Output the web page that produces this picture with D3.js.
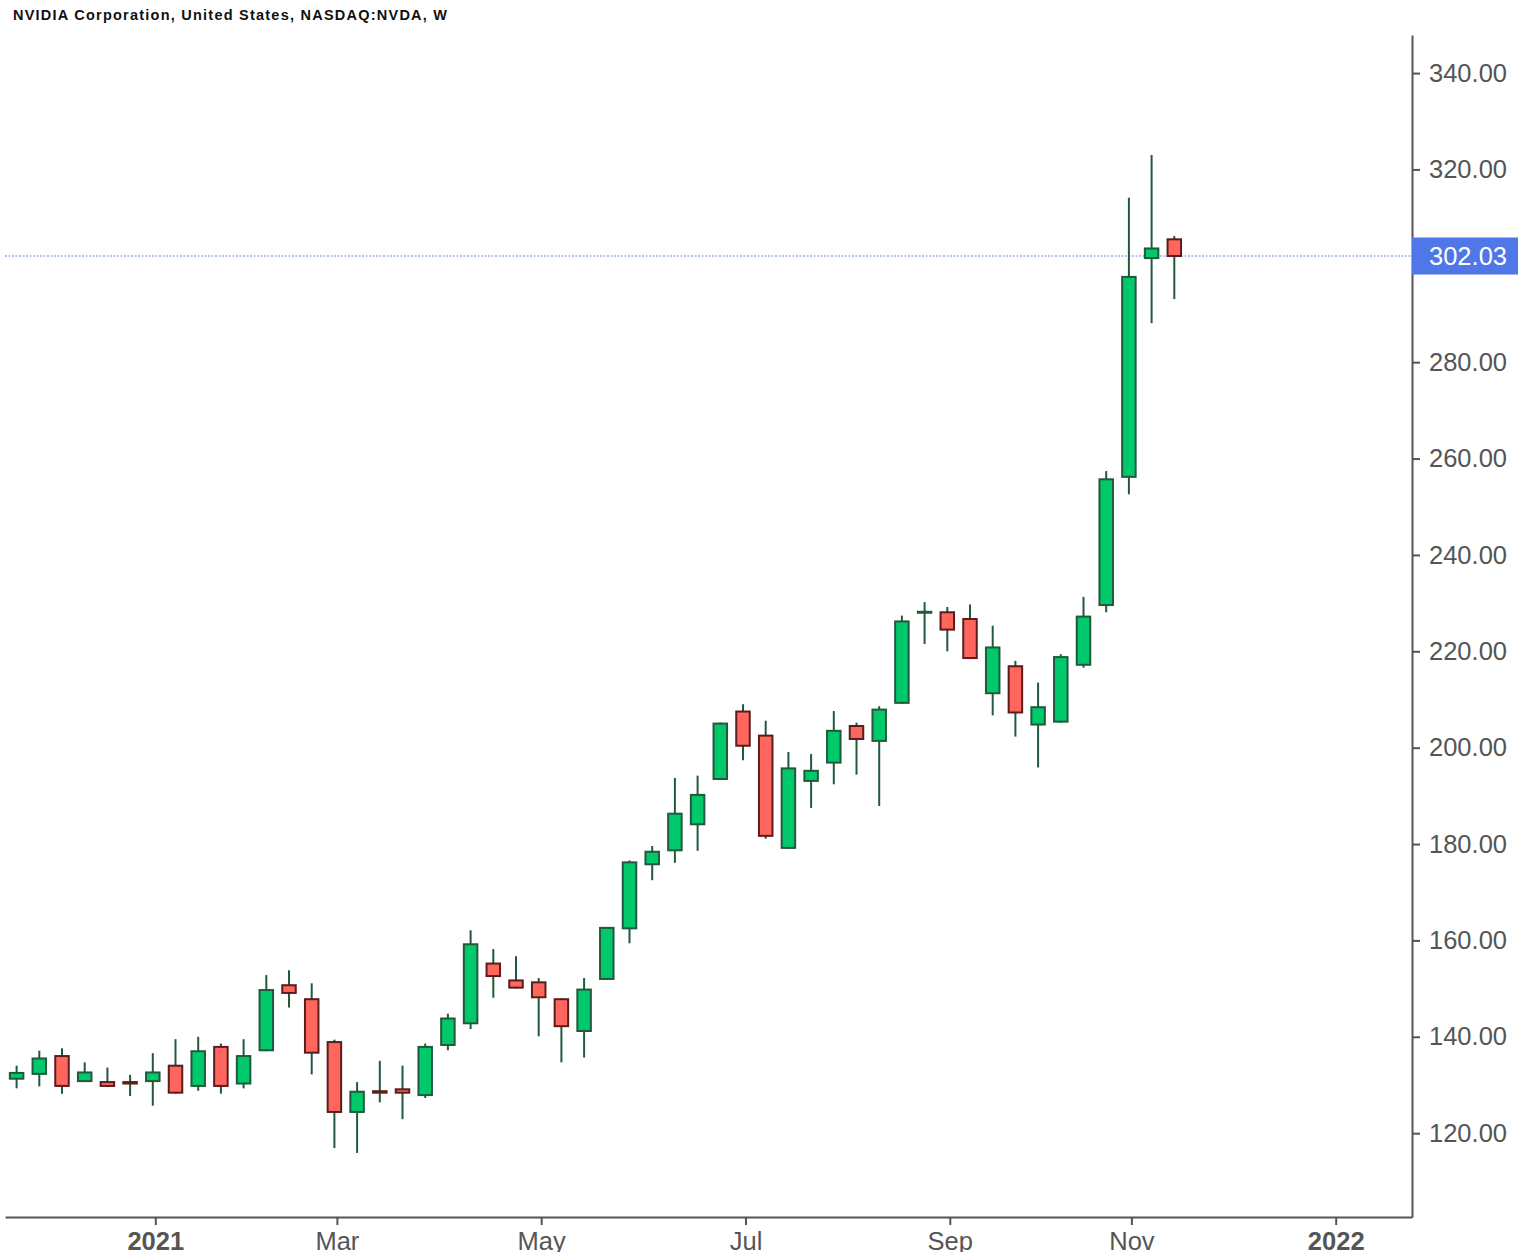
<!DOCTYPE html>
<html>
<head>
<meta charset="utf-8">
<script src="https://cdn.jsdelivr.net/npm/d3@7"></script>
<style>
  body { margin: 0; background: #fff; }
  svg { display: block; font-family: "Liberation Sans", Arial, sans-serif; }
</style>
</head>
<body>
<div id="chart"></div>
<script>
// weekly bars, NVDA
var weeks = [
  "2020-11-23", "2020-11-30", "2020-12-07", "2020-12-14", "2020-12-21", "2020-12-28",
  "2021-01-04", "2021-01-11", "2021-01-18", "2021-01-25", "2021-02-01", "2021-02-08",
  "2021-02-15", "2021-02-22", "2021-03-01", "2021-03-08", "2021-03-15", "2021-03-22",
  "2021-03-29", "2021-04-05", "2021-04-12", "2021-04-19", "2021-04-26", "2021-05-03",
  "2021-05-10", "2021-05-17", "2021-05-24", "2021-05-31", "2021-06-07", "2021-06-14",
  "2021-06-21", "2021-06-28", "2021-07-05", "2021-07-12", "2021-07-19", "2021-07-26",
  "2021-08-02", "2021-08-09", "2021-08-16", "2021-08-23", "2021-08-30", "2021-09-06",
  "2021-09-13", "2021-09-20", "2021-09-27", "2021-10-04", "2021-10-11", "2021-10-18",
  "2021-10-25", "2021-11-01", "2021-11-08", "2021-11-15"
];
var opens = [
  131.3, 132.3, 136.0, 130.8, 130.6, 130.6, 130.8, 134.0, 129.8, 137.9, 130.3, 137.2,
  150.7, 147.8, 138.9, 124.4, 128.7, 129.1, 127.9, 138.3, 142.8, 155.2, 151.7, 151.3,
  147.8, 141.2, 152.0, 162.5, 175.8, 178.7, 184.1, 193.5, 207.5, 202.5, 179.2, 193.1,
  196.9, 204.5, 201.4, 209.3, 228.0, 228.1, 226.7, 211.3, 216.9, 204.8, 205.4, 217.2,
  229.6, 256.2, 301.6, 305.5
];
var highs = [
  134.0, 137.1, 137.6, 134.7, 133.6, 132.1, 136.6, 139.5, 140.0, 138.6, 139.5, 152.8,
  153.8, 151.1, 139.4, 130.6, 135.0, 134.0, 138.6, 144.8, 162.1, 158.2, 156.7, 152.2,
  148.0, 152.2, 162.8, 176.6, 179.6, 193.7, 194.2, 205.2, 209.0, 205.6, 199.1, 198.7,
  207.6, 205.2, 208.6, 227.4, 230.2, 229.2, 229.7, 225.3, 218.0, 213.5, 219.4, 231.3,
  257.4, 314.1, 323.0, 306.2
];
var lows = [
  129.3, 129.7, 128.2, 130.6, 129.6, 127.7, 125.7, 128.2, 128.8, 128.2, 129.3, 137.0,
  146.1, 132.2, 116.9, 115.9, 126.4, 122.9, 127.3, 137.2, 141.6, 148.1, 150.0, 140.1,
  134.7, 135.7, 151.8, 159.4, 172.5, 176.1, 178.6, 193.3, 197.4, 181.1, 179.0, 187.5,
  192.4, 194.4, 187.9, 209.1, 221.5, 220.0, 218.4, 206.7, 202.3, 195.9, 205.2, 216.6,
  228.1, 252.6, 288.1, 293.1
];
var closes = [
  132.5, 135.5, 129.8, 132.6, 129.8, 130.3, 132.6, 128.4, 137.0, 129.8, 136.0, 149.7,
  149.1, 136.7, 124.4, 128.6, 128.4, 128.4, 137.9, 143.8, 159.2, 152.6, 150.2, 148.2,
  142.2, 149.8, 162.6, 176.2, 178.4, 186.3, 190.2, 205.0, 200.4, 181.7, 195.7, 195.2,
  203.5, 201.8, 207.9, 226.2, 228.2, 224.5, 218.6, 220.8, 207.3, 208.4, 218.8, 227.2,
  255.7, 297.7, 303.6, 302.03
];
var tickDates = ["2021-01-04", "2021-03-01", "2021-05-03", "2021-07-05", "2021-09-06", "2021-11-01", "2022-01-03"];
var tickLabels = ["2021", "Mar", "May", "Jul", "Sep", "Nov", "2022"];
// 300.00 sits under the last-price box
var yTicks = [120, 140, 160, 180, 200, 220, 240, 260, 280, 320, 340];
var lastPrice = 302.03;
var title = "NVIDIA Corporation, United States, NASDAQ:NVDA, W";

var width = 1522, height = 1252;
var parse = d3.utcParse("%Y-%m-%d");

var bars = weeks.map(function (w, i) {
  return { date: parse(w), o: opens[i], h: highs[i], l: lows[i], c: closes[i] };
});

var svg = d3.select("#chart").append("svg")
  .attr("width", width)
  .attr("height", height);

// anchor the time scale on the two year ticks, then widen to the plot edges
var x0 = d3.scaleUtc()
  .domain([parse("2021-01-04"), parse("2022-01-03")])
  .range([155.3, 1335.7]);
var x = d3.scaleUtc()
  .domain([x0.invert(5), x0.invert(1412)])
  .range([5, 1412]);

var y = d3.scaleLinear()
  .domain([102.6, 347.9])
  .range([1217, 35]);

var axisColor = "#555";
var candleShift = -2.5;

// title
svg.append("text")
  .attr("x", 13)
  .attr("y", 20)
  .attr("font-size", "14.5px")
  .attr("font-weight", "bold")
  .attr("fill", "#111")
  .attr("textLength", 434)
  .attr("lengthAdjust", "spacing")
  .text(title);

// last price dotted line
svg.append("line")
  .attr("x1", 5)
  .attr("x2", 1412)
  .attr("y1", y(lastPrice))
  .attr("y2", y(lastPrice))
  .attr("stroke", "#9aafef")
  .attr("stroke-width", 1.5)
  .attr("stroke-dasharray", "2,1.5");

// candles
var candle = svg.selectAll(".candle")
  .data(bars)
  .enter()
  .append("g")
  .attr("class", "candle")
  .attr("transform", "translate(" + candleShift + ",0)");

var bodyW = 13.5;

candle.append("line")
  .attr("x1", function (d) { return x(d.date); })
  .attr("x2", function (d) { return x(d.date); })
  .attr("y1", function (d) { return y(d.h); })
  .attr("y2", function (d) { return y(d.l); })
  .attr("stroke", "#22593c")
  .attr("stroke-width", 2);

candle.append("rect")
  .attr("x", function (d) { return x(d.date) - bodyW / 2; })
  .attr("y", function (d) { return y(Math.max(d.o, d.c)); })
  .attr("width", bodyW)
  .attr("height", function (d) {
    return Math.max(0.5, Math.abs(y(d.o) - y(d.c)));
  })
  .attr("fill", function (d) { return d.c >= d.o ? "#00c96c" : "#ff665e"; })
  .attr("stroke", function (d) { return d.c >= d.o ? "#22593c" : "#5a1c1c"; })
  .attr("stroke-width", 2);

// y axis (right)
var yAxis = svg.append("g")
  .attr("transform", "translate(1412,0)")
  .call(d3.axisRight(y)
    .tickValues(yTicks)
    .tickFormat(d3.format(".2f"))
    .tickSize(8)
    .tickPadding(9)
    .tickSizeOuter(0));

// x axis (bottom)
var tickByTime = {};
tickDates.forEach(function (t, i) { tickByTime[+parse(t)] = tickLabels[i]; });

var xAxis = svg.append("g")
  .attr("transform", "translate(0,1217)")
  .call(d3.axisBottom(x)
    .tickValues(tickDates.map(parse))
    .tickFormat(function (d) { return tickByTime[+d]; })
    .tickSize(8)
    .tickPadding(7)
    .tickSizeOuter(0));

[yAxis, xAxis].forEach(function (g) {
  g.select(".domain").attr("stroke", axisColor).attr("stroke-width", 2);
  g.selectAll(".tick line").attr("stroke", axisColor).attr("stroke-width", 2);
  g.selectAll(".tick text")
    .attr("fill", axisColor)
    .attr("font-size", "25.5px")
    .attr("font-family", "'Liberation Sans', Arial, sans-serif");
});

xAxis.selectAll(".tick text")
  .attr("font-weight", function (d) { return /^\d{4}$/.test(tickByTime[+d]) ? "bold" : "normal"; });

// last price label
var py = y(lastPrice);
svg.append("rect")
  .attr("x", 1412)
  .attr("y", py - 18.5)
  .attr("width", 106)
  .attr("height", 37)
  .attr("fill", "#4f77e8");

svg.append("text")
  .attr("x", 1429)
  .attr("y", py)
  .attr("dy", "0.35em")
  .attr("font-size", "25.5px")
  .attr("fill", "#fff")
  .text(d3.format(".2f")(lastPrice));
</script>
</body>
</html>
